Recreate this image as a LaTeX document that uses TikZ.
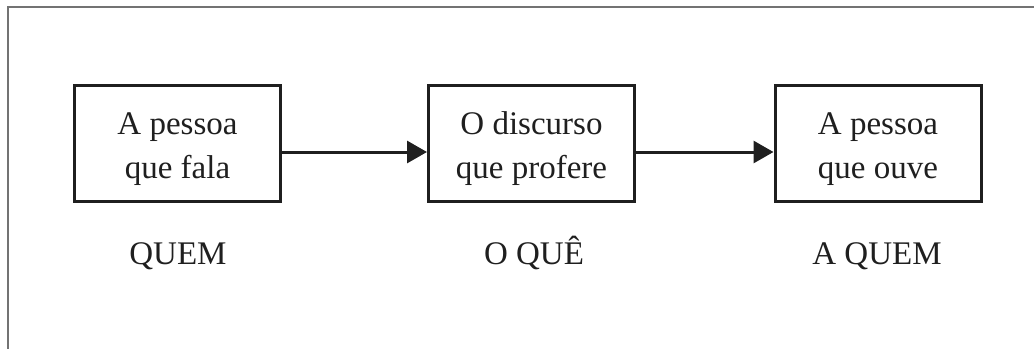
\documentclass[tikz,border=0pt]{standalone}
\usepackage{fontspec}
\setmainfont{Liberation Serif}
\usetikzlibrary{arrows.meta}
\newcommand{\mystrut}{\rule[-7pt]{0pt}{41pt}}
\begin{document}
\begin{tikzpicture}[x=1pt,y=-1pt,
  txt/.style={font=\fontsize{33}{44}\selectfont, text=black!88},
  boxnode/.style={txt, draw=black!88, line width=3pt, minimum width=206pt, minimum height=116pt, align=center, inner sep=0pt},
  conn/.style={draw=black!88, line width=3pt, -{Triangle[length=20pt,width=22pt]}},
  frame/.style={draw=black!55, line width=2pt},
  lab/.style={txt, anchor=base}
]
\useasboundingbox (0,0) rectangle (1034,349);
\coordinate (ftop) at (1034,6.5);
\coordinate (fcorner) at (7.5,6.5);
\coordinate (fbottom) at (7.5,349);
\draw[frame] (ftop) -- (fcorner) -- (fbottom);
\node[boxnode] (b1) at (177.5,143.5) {\mystrut A pessoa\\\mystrut que fala};
\node[boxnode] (b2) at (531.5,143.5) {\mystrut O discurso\\\mystrut que profere};
\node[boxnode] (b3) at (878,143.5) {\mystrut A pessoa\\\mystrut que ouve};
\draw[conn] ([yshift=-8.5pt]b1.east) -- ([yshift=-8.5pt]b2.west);
\draw[conn] ([yshift=-8.5pt]b2.east) -- ([yshift=-8.5pt]b3.west);
\node[lab] (l1) at (178,264) {QUEM};
\node[lab] (l2) at (534,264) {O QUÊ};
\node[lab] (l3) at (877,264) {A QUEM};
\end{tikzpicture}
\end{document}
